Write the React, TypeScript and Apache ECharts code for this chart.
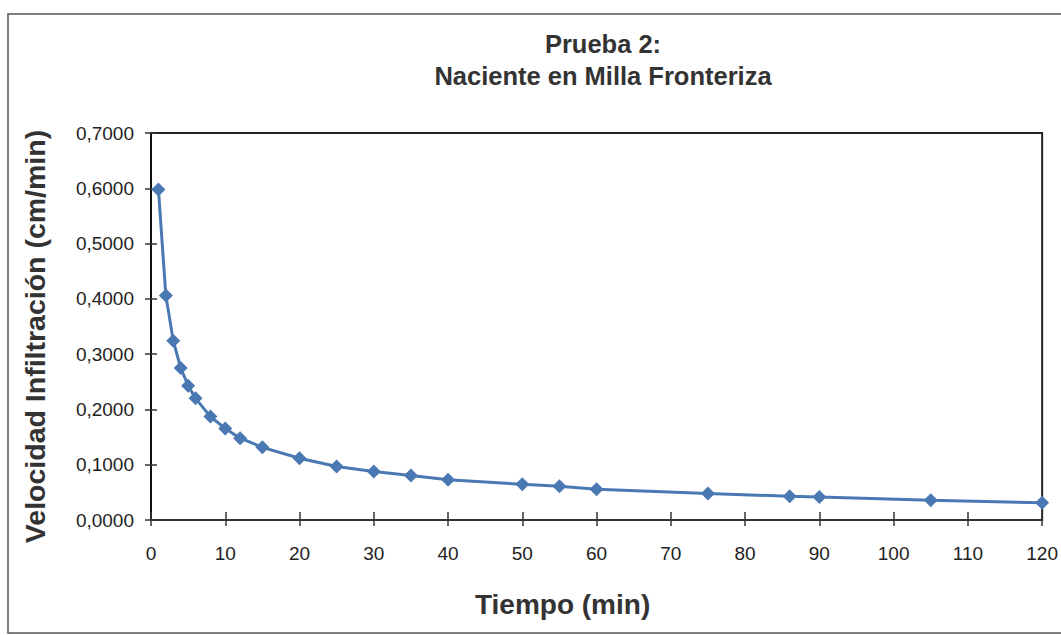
import React, { useEffect, useRef } from "react";
import * as echarts from "echarts";

const timeMin = [1, 2, 3, 4, 5, 6, 8, 10, 12, 15, 20, 25, 30, 35, 40, 50, 55, 60, 75, 86, 90, 105, 120];
const velocity = [0.598, 0.406, 0.324, 0.275, 0.243, 0.22, 0.187, 0.1655, 0.148, 0.1314, 0.1117, 0.0968, 0.0878, 0.0806, 0.0729, 0.0645, 0.0609, 0.0556, 0.0478, 0.043, 0.0418, 0.0358, 0.031];
const titleLines = ["Prueba 2:", "Naciente en Milla Fronteriza"];
const xName = "Tiempo (min)";
const yName = "Velocidad Infiltración (cm/min)";

const FONT = "'Liberation Sans', Arial, sans-serif";

export default function App() {
  const ref = useRef<HTMLDivElement>(null);
  useEffect(() => {
    if (!ref.current) return;
    const chart = echarts.init(ref.current, undefined, { renderer: "svg" });
    const baseX = {
      type: "value",
      min: 0,
      max: 120,
      interval: 10,
      splitLine: { show: false },
      axisLine: { show: true, onZero: false, lineStyle: { color: "#333", width: 2 } },
    };
    const baseY = {
      type: "value",
      min: 0,
      max: 0.7,
      interval: 0.1,
      splitLine: { show: false },
      axisLine: { show: true, onZero: false, lineStyle: { color: "#111", width: 2 } },
    };
    chart.setOption({
      animation: false,
      backgroundColor: "#fff",
      title: {
        text: titleLines.join("\n"),
        left: 598,
        top: 23,
        textAlign: "center",
        textStyle: { fontFamily: FONT, fontSize: 25.5, fontWeight: "bold", color: "#333", lineHeight: 32 },
      },
      grid: { left: 151, right: 16, top: 133, bottom: 115, show: true, borderColor: "#222", borderWidth: 2, backgroundColor: "transparent" },
      xAxis: [
        {
          ...baseX,
          position: "bottom",
          name: xName,
          nameLocation: "middle",
          nameGap: 70,
          nameTextStyle: { fontFamily: FONT, fontSize: 28, fontWeight: "bold", color: "#333", padding: [0, 68, 0, 0] },
          axisTick: { show: true, inside: false, length: 6, lineStyle: { color: "#333", width: 1.5 } },
          axisLabel: { fontFamily: FONT, fontSize: 19, color: "#222", margin: 24 },
        },
        {
          ...baseX,
          position: "bottom",
          axisTick: { show: true, inside: true, length: 8, lineStyle: { color: "#333", width: 1.5 } },
          axisLabel: { show: false },
        },
      ],
      yAxis: [
        {
          ...baseY,
          position: "left",
          name: yName,
          nameLocation: "middle",
          nameGap: 102,
          nameTextStyle: { fontFamily: FONT, fontSize: 28.5, fontWeight: "bold", color: "#333", padding: [0, 20, 0, 0] },
          axisTick: { show: true, inside: false, length: 6, lineStyle: { color: "#333", width: 1.5 } },
          axisLabel: {
            fontFamily: FONT,
            fontSize: 19,
            color: "#222",
            margin: 17,
            formatter: (v: number) => v.toFixed(4).replace(".", ","),
          },
        },
        {
          ...baseY,
          position: "left",
          axisTick: { show: true, inside: true, length: 6, lineStyle: { color: "#333", width: 1.5 } },
          axisLabel: { show: false },
        },
      ],
      graphic: [
        {
          type: "rect",
          shape: { x: 8, y: 14, width: 1070, height: 619 },
          style: { fill: "none", stroke: "#555", lineWidth: 1.5 },
          silent: true,
        },
      ],
      series: [
        {
          type: "line",
          xAxisIndex: 0,
          yAxisIndex: 0,
          data: timeMin.map((t, i) => [t, velocity[i]]),
          symbol: "diamond",
          symbolSize: 14,
          lineStyle: { color: "#4a78b2", width: 3 },
          itemStyle: { color: "#4a78b2" },
        },
      ],
    });
    return () => chart.dispose();
  }, []);
  return <div ref={ref} style={{ position: "fixed", left: 0, top: 0, width: 1061, height: 635 }} />;
}
